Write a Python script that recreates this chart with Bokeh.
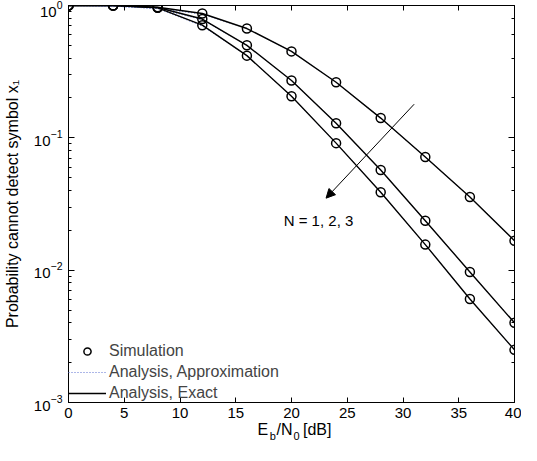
import numpy as np
from bokeh.plotting import figure
from bokeh.models import (Range1d, LinearAxis, LogAxis, FixedTicker, LogTicker,
                          Legend, LegendItem, Arrow, NormalHead, CustomJSTickFormatter)
from bokeh.core.properties import value
from bokeh.embed import file_html
from bokeh.resources import INLINE

# ---- data ----
ebn0_db = [0, 4, 8, 12, 16, 20, 24, 28, 32, 36, 40]
p_n1 = [1.0, 1.0, 0.97, 0.87, 0.67, 0.45, 0.263, 0.141, 0.0716, 0.0357, 0.0167]
p_n2 = [1.0, 1.0, 0.965, 0.79, 0.50, 0.271, 0.129, 0.0571, 0.0236, 0.0097, 0.0040]
p_n3 = [1.0, 1.0, 0.96, 0.71, 0.418, 0.206, 0.0912, 0.0388, 0.0156, 0.00605, 0.0025]
approx_n1 = [1.0, 0.99, 0.95, 0.86, 0.67, 0.45, 0.263, 0.141, 0.0716, 0.0357, 0.0167]
approx_n2 = [1.0, 0.99, 0.95, 0.78, 0.50, 0.271, 0.129, 0.0571, 0.0236, 0.0097, 0.0040]
approx_n3 = [1.0, 0.99, 0.95, 0.70, 0.418, 0.206, 0.0912, 0.0388, 0.0156, 0.00605, 0.0025]
x_ticks = [0, 5, 10, 15, 20, 25, 30, 35, 40]

FONT = "Liberation Sans"

p = figure(width=521, height=445, y_axis_type="log",
           x_range=Range1d(0, 40), y_range=Range1d(1e-3, 1),
           output_backend="svg", toolbar_location=None,
           min_border_left=63, min_border_right=7, min_border_top=5,
           min_border_bottom=43)
p.xgrid.grid_line_color = None
p.ygrid.grid_line_color = None
p.outline_line_color = None

# bottom axis
xa = p.xaxis[0]
xa.ticker = FixedTicker(ticks=x_ticks)
xa.major_tick_in = 5
xa.major_tick_out = 0
xa.minor_tick_out = 0
xa.minor_tick_in = 0
xa.minor_tick_line_color = None
xa.major_label_standoff = 5
xa.major_label_text_font = FONT
xa.major_label_text_font_size = "15px"
xa.major_label_text_color = "black"
xa.axis_line_color = "black"

# left axis
ya = p.yaxis[0]
ya.major_tick_in = 6
ya.major_tick_out = 0
ya.minor_tick_in = 3
ya.minor_tick_out = 0
ya.major_label_standoff = 6
ya.major_label_text_font = FONT
ya.major_label_text_font_size = "15px"
ya.major_label_text_color = "black"
ya.axis_label = "Probability cannot detect symbol x\u2081"
ya.axis_label_text_font = FONT
ya.axis_label_text_font_size = "16px"
ya.axis_label_text_font_style = "normal"
ya.axis_label_text_color = "black"
ya.axis_label_standoff = 10

blank = "return ''"
top = LinearAxis(ticker=FixedTicker(ticks=x_ticks), major_tick_in=5, major_tick_out=0,
                 minor_tick_in=0, minor_tick_out=0,
                 minor_tick_line_color=None, major_label_text_font_size="0px",
                 formatter=CustomJSTickFormatter(code=blank), major_label_standoff=0)
p.add_layout(top, "above")
right = LogAxis(ticker=LogTicker(), major_tick_in=6, major_tick_out=0,
                minor_tick_in=3, minor_tick_out=0, major_label_text_font_size="0px",
                formatter=CustomJSTickFormatter(code=blank), major_label_standoff=0)
p.add_layout(right, "right")

# x axis title "E_b/N_0 [dB]" built from two label-only axes (main text + subscripts)
main_pos = [17.428, 19.379, 22.306]
main_txt = ["E", "/N", "[dB]"]
sub_pos = [18.315, 20.443]
sub_txt = ["b", "0"]
ax_main = LinearAxis(ticker=FixedTicker(ticks=main_pos),
                     major_label_overrides=dict(zip(main_pos, main_txt)),
                     axis_line_color=None, major_tick_line_color=None,
                     minor_tick_line_color=None, major_tick_in=0, major_tick_out=0,
                     minor_tick_in=0, minor_tick_out=0, major_label_standoff=0,
                     major_label_text_font=FONT, major_label_text_font_size="16px",
                     major_label_text_color="black")
p.add_layout(ax_main, "below")
ax_sub = LinearAxis(ticker=FixedTicker(ticks=sub_pos),
                    major_label_overrides=dict(zip(sub_pos, sub_txt)),
                    axis_line_color=None, major_tick_line_color=None,
                    minor_tick_line_color=None, major_tick_in=0, major_tick_out=0,
                    minor_tick_in=0, minor_tick_out=0, major_label_standoff=-11,
                    major_label_text_font=FONT, major_label_text_font_size="11px",
                    major_label_text_color="black")
p.add_layout(ax_sub, "below")

# curves
approx_rs, exact_rs, circ_rs = [], [], []
for sim, apx in [(p_n1, approx_n1), (p_n2, approx_n2), (p_n3, approx_n3)]:
    approx_rs.append(p.line(ebn0_db, apx, line_color="#5a6fd0", line_width=1, line_dash="1 2"))
    exact_rs.append(p.line(ebn0_db, sim, line_color="black", line_width=1.4))
    circ_rs.append(p.scatter(ebn0_db, sim, marker="circle", size=9, fill_color=None,
                             line_color="black", line_width=1.5))

# annotation arrow and text
p.add_layout(Arrow(end=NormalHead(size=9, fill_color="black", line_color="black"),
                   x_start=31.0, y_start=0.1795, x_end=23.1, y_end=0.035,
                   line_width=1, line_color="black"))
p.text(x=[19.3], y=[0.0237], text=["N = 1, 2, 3"], text_font=value(FONT),
       text_font_size="15px", text_baseline="middle", text_align="left", text_color="black")

# legend
legend = Legend(items=[LegendItem(label="Simulation", renderers=[circ_rs[0]]),
                       LegendItem(label="Analysis, Approximation", renderers=[approx_rs[0]]),
                       LegendItem(label="Analysis, Exact", renderers=[exact_rs[0]])],
                location="bottom_left", margin=0, padding=10, spacing=3,
                glyph_width=38, glyph_height=18, label_height=18, label_standoff=3,
                label_text_font=FONT, label_text_font_size="16px",
                border_line_color=None, background_fill_alpha=0)
p.add_layout(legend)

open("out.html", "w").write(file_html(p, INLINE))
